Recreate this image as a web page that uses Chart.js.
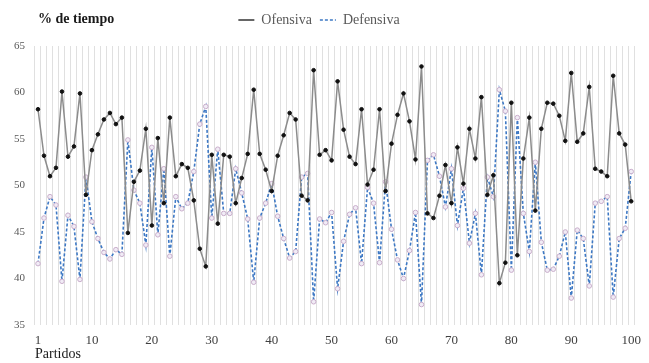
<!DOCTYPE html>
<html>
<head>
<meta charset="utf-8">
<script src="https://cdn.jsdelivr.net/npm/chart.js@4/dist/chart.umd.min.js"></script>
<style>
  body { margin: 0; background: #fff; }
  #wrap { width: 649px; height: 363px; position: relative; }
</style>
</head>
<body>
<div id="wrap"><canvas id="chart"></canvas></div>
<script>
// -----------------------------
// Data
// -----------------------------
const partidos = Array.from({length: 100}, (_, i) => String(i + 1));
const xTickLabels = ["1", "10", "20", "30", "40", "50", "60", "70", "80", "90", "100"];

const ofensiva = [
  58.2, 53.2, 51.0, 51.9, 60.1, 53.1, 54.2, 59.9, 49.0, 53.8,
  55.5, 57.1, 57.8, 56.6, 57.3, 44.9, 50.4, 51.6, 56.1, 45.7,
  55.1, 48.1, 57.3, 51.0, 52.3, 51.9, 48.4, 43.2, 41.3, 53.3,
  45.9, 53.3, 53.1, 48.1, 50.8, 53.4, 60.3, 53.4, 51.7, 49.4,
  53.2, 55.4, 57.8, 57.1, 48.9, 48.4, 62.4, 53.3, 53.8, 52.7,
  61.2, 56.0, 53.1, 52.3, 58.2, 50.1, 51.7, 58.2, 49.4, 54.5,
  57.6, 59.9, 56.9, 52.8, 62.8, 47.0, 46.5, 48.9, 52.2, 48.1,
  54.1, 50.2, 56.1, 52.9, 59.5, 49.0, 51.1, 39.5, 41.7, 58.9,
  42.5, 52.9, 57.3, 47.3, 56.1, 58.9, 58.8, 57.5, 54.8, 62.1,
  54.7, 55.6, 60.6, 51.8, 51.5, 51.0, 61.8, 55.6, 54.4, 48.3
];

const defensiva = [
  41.6, 46.5, 48.8, 47.9, 39.7, 46.8, 45.6, 39.9, 50.9, 46.1,
  44.3, 42.8, 42.1, 43.1, 42.6, 54.9, 49.5, 48.1, 43.6, 54.1,
  44.7, 51.8, 42.4, 48.8, 47.5, 48.1, 51.5, 56.6, 58.5, 46.5,
  53.9, 47.0, 47.0, 51.8, 49.2, 46.4, 39.6, 46.5, 48.1, 50.2,
  46.7, 44.3, 42.2, 42.9, 50.9, 51.3, 37.5, 46.4, 46.0, 47.1,
  38.9, 44.0, 46.9, 47.6, 41.6, 49.8, 48.1, 41.7, 50.4, 45.3,
  42.0, 40.0, 43.0, 47.1, 37.2, 52.7, 53.3, 51.0, 47.7, 51.8,
  45.7, 49.7, 43.8, 47.0, 40.4, 50.9, 48.8, 60.3, 58.0, 40.9,
  57.3, 47.0, 42.9, 52.5, 43.9, 40.9, 41.0, 42.4, 45.0, 37.9,
  45.2, 44.3, 39.2, 48.1, 48.3, 48.8, 38.0, 44.3, 45.4, 51.5
];

const serif = '"Liberation Serif", "DejaVu Serif", serif';

// -----------------------------
// "% de tiempo" caption + taller legend box
// -----------------------------
const captionPlugin = {
  id: 'caption',
  beforeInit(chart) {
    const fit = chart.legend.fit;
    chart.legend.fit = function () {
      fit.call(this);
      this.height += 9;
    };
  },
  afterDraw(chart) {
    const ctx = chart.ctx;
    ctx.save();
    ctx.font = 'bold 14px ' + serif;
    ctx.fillStyle = '#1a1a1a';
    ctx.textBaseline = 'middle';
    ctx.textAlign = 'left';
    ctx.fillText('% de tiempo', 38, 19);
    ctx.restore();
  }
};

// -----------------------------
// Chart
// -----------------------------
new Chart(document.getElementById('chart'), {
  type: 'line',
  data: {
    labels: partidos,
    datasets: [
      {
        label: 'Ofensiva',
        data: ofensiva,
        borderColor: '#8c8c8c',
        borderWidth: 1.5,
        pointRadius: 1.8,
        pointBackgroundColor: '#111',
        pointBorderColor: '#111',
        pointBorderWidth: 1,
        tension: 0
      },
      {
        label: 'Defensiva',
        data: defensiva,
        borderColor: '#3d78c4',
        borderWidth: 1.6,
        borderDash: [3, 2],
        pointRadius: 2.3,
        pointBackgroundColor: '#f1ecf6',
        pointBorderColor: '#c9aecb',
        pointBorderWidth: 1,
        tension: 0
      }
    ]
  },
  options: {
    responsive: true,
    maintainAspectRatio: false,
    animation: false,
    layout: { padding: { top: 5, right: 11, left: 0, bottom: 0 } },
    plugins: {
      legend: {
        position: 'top',
        labels: {
          usePointStyle: true,
          pointStyle: 'line',
          pointStyleWidth: 16,
          padding: 8,
          color: '#595959',
          font: { family: serif, size: 14 },
          generateLabels(chart) {
            const items = Chart.defaults.plugins.legend.labels.generateLabels(chart);
            items.forEach(item => {
              const ds = chart.data.datasets[item.datasetIndex];
              item.strokeStyle = item.datasetIndex === 0 ? '#333' : ds.borderColor;
              item.lineDash = ds.borderDash || [];
              item.lineWidth = 1.5;
            });
            return items;
          }
        }
      },
      tooltip: { enabled: false }
    },
    scales: {
      x: {
        offset: true,
        grid: { offset: true, color: '#e0e0e0', lineWidth: 1, drawTicks: false },
        border: { display: false },
        ticks: {
          autoSkip: false,
          maxRotation: 0,
          padding: 8,
          color: '#404040',
          font: { family: serif, size: 13 },
          callback: function (value) {
            const lab = this.getLabelForValue(value);
            return xTickLabels.includes(lab) ? lab : '';
          }
        },
        title: {
          display: true,
          text: 'Partidos',
          align: 'start',
          color: '#1a1a1a',
          font: { family: serif, size: 14 },
          padding: { top: 0, bottom: 0 }
        },
        afterFit(scale) { scale.height = 38; }
      },
      y: {
        min: 35,
        max: 65,
        grid: { display: false, drawTicks: false },
        border: { display: false },
        ticks: {
          stepSize: 5,
          padding: 10,
          color: '#595959',
          font: { family: serif, size: 11 }
        },
        afterFit(scale) { scale.width = 35; }
      }
    }
  },
  plugins: [captionPlugin]
});
</script>
</body>
</html>
